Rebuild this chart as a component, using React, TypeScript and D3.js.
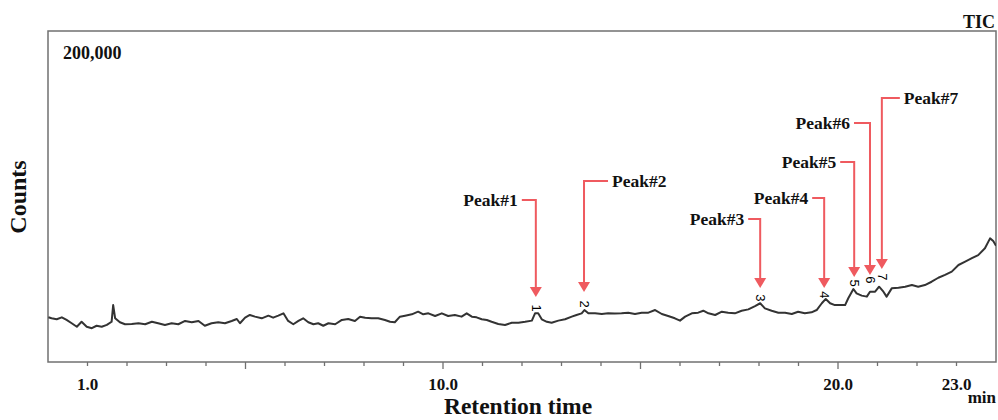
import React from "react";
import * as d3 from "d3";

// Retention time (min) and TIC counts (thousands)
const times = [
  0.01, 0.09, 0.22, 0.35, 0.47, 0.6, 0.73, 0.85, 0.98, 1.11, 1.23, 1.36, 1.49, 1.61, 1.65, 1.7, 1.82, 1.95, 2.12, 2.29,
  2.46, 2.63, 2.79, 2.96, 3.13, 3.3, 3.47, 3.64, 3.81, 3.97, 4.14, 4.31, 4.48, 4.65, 4.78, 4.86, 4.99, 5.11, 5.24, 5.41,
  5.58, 5.7, 5.83, 5.96, 6.08, 6.21, 6.34, 6.46, 6.59, 6.72, 6.84, 6.97, 7.1, 7.27, 7.44, 7.6, 7.77, 7.9, 8.03, 8.19,
  8.36, 8.53, 8.66, 8.78, 8.91, 9.04, 9.21, 9.37, 9.5, 9.63, 9.8, 9.97, 10.13, 10.3, 10.47, 10.6, 10.73, 10.85, 10.98, 11.11,
  11.23, 11.4, 11.57, 11.74, 11.91, 12.08, 12.25, 12.33, 12.41, 12.5, 12.63, 12.75, 12.92, 13.09, 13.26, 13.38, 13.51, 13.58, 13.68, 13.85,
  14.02, 14.18, 14.35, 14.52, 14.69, 14.86, 15.03, 15.2, 15.37, 15.54, 15.7, 15.87, 16.0, 16.13, 16.3, 16.46, 16.59, 16.72, 16.89, 17.06,
  17.22, 17.39, 17.56, 17.73, 17.9, 18.03, 18.15, 18.32, 18.49, 18.66, 18.83, 18.99, 19.16, 19.33, 19.46, 19.59, 19.69, 19.8, 19.92, 20.05,
  20.18, 20.26, 20.39, 20.47, 20.6, 20.73, 20.81, 20.94, 21.04, 21.15, 21.23, 21.36, 21.53, 21.7, 21.87, 22.03, 22.2, 22.37, 22.54, 22.71,
  22.88, 23.05, 23.22, 23.39, 23.55, 23.72, 23.85, 23.93, 24.0,
];
const countsK = [
  27.0, 26.4, 25.8, 27.0, 25.4, 23.4, 21.3, 24.3, 21.3, 20.4, 21.9, 21.3, 22.4, 24.3, 34.4, 26.4, 24.0, 22.8, 23.0, 23.4,
  22.8, 24.3, 23.4, 22.4, 23.4, 22.8, 24.8, 24.0, 24.8, 21.9, 23.4, 24.0, 23.4, 24.8, 26.0, 23.4, 26.8, 28.4, 27.4, 26.4,
  28.0, 26.8, 28.0, 29.4, 24.8, 22.8, 24.8, 26.4, 24.0, 22.8, 23.4, 21.9, 23.4, 22.8, 25.4, 26.0, 24.8, 27.4, 26.8, 26.4,
  26.4, 25.4, 24.3, 24.0, 27.4, 28.0, 28.8, 30.4, 28.8, 29.4, 27.8, 29.4, 27.8, 28.4, 27.4, 29.4, 27.4, 27.0, 25.8, 25.4,
  24.3, 23.0, 22.4, 23.7, 23.7, 24.3, 25.0, 29.4, 29.4, 25.8, 24.3, 23.7, 25.0, 25.8, 27.4, 28.4, 29.4, 31.4, 29.4, 29.4,
  29.0, 29.4, 29.3, 29.4, 29.8, 29.0, 29.8, 29.8, 31.4, 29.0, 27.8, 26.4, 25.0, 27.4, 29.4, 29.8, 31.0, 29.4, 28.4, 30.4,
  29.8, 29.4, 31.0, 31.8, 33.8, 35.5, 32.4, 31.0, 29.8, 29.8, 29.0, 30.4, 29.4, 30.0, 31.4, 35.5, 38.1, 35.5, 34.4, 34.4,
  34.4, 38.5, 44.1, 41.5, 40.1, 39.5, 42.5, 42.5, 45.5, 42.5, 39.5, 44.5, 44.9, 45.5, 46.5, 45.5, 46.5, 48.5, 50.9, 52.6,
  54.6, 58.6, 60.6, 62.7, 64.6, 68.7, 74.7, 73.1, 70.3,
];

// Peak annotations
const peakNames = ["Peak#1", "Peak#2", "Peak#3", "Peak#4", "Peak#5", "Peak#6", "Peak#7"];
const peakNumbers = ["1", "2", "3", "4", "5", "6", "7"];
const peakTimes = [12.35, 13.57, 18.03, 19.65, 20.41, 20.81, 21.11];
const peakLabelK = [97.9, 109.4, 86.4, 99.1, 120.8, 144.4, 159.5];
const peakTipK = [39.3, 42.3, 44.7, 44.7, 51.4, 52.6, 56.2];
const peakNumK = [32.6, 35.0, 38.7, 40.5, 47.7, 49.6, 51.4];
const peakSide = [-1, 1, -1, -1, -1, -1, 1];
const peakArm = [14, 24, 12, 12, 14, 16, 18];

const xTicks = d3.range(1, 24, 1);
const xMajor = [5, 10, 15, 20];
const xLabels = [1, 10, 20, 23];
const yTopLabel = "200,000";

const W = 998;
const H = 420;
const L = 48;
const R = 996;
const T = 31;
const B = 362;

export default function App() {
  const x = d3.scaleLinear().domain([0, 24]).range([L, R]);
  const y = d3.scaleLinear().domain([0, 200000]).range([B, T]);
  const line = d3
    .line<number>()
    .x((_, i) => x(times[i]))
    .y((v) => y(v * 1000));
  const red = "#ef5a5f";
  const serif = "'Liberation Serif', 'Times New Roman', serif";

  return (
    <svg
      width={W}
      height={H}
      style={{ position: "absolute", left: 0, top: 0, background: "#fff" }}
      fontFamily={serif}
    >
      <defs>
        <clipPath id="plot">
          <rect x={L} y={T} width={R - L} height={B - T} />
        </clipPath>
      </defs>
      <rect x={0} y={0} width={W} height={H} fill="#fff" />
      {/* frame */}
      <rect x={L} y={T} width={R - L} height={B - T} fill="none" stroke="#707070" strokeWidth={1.5} />
      {/* ticks */}
      {xTicks.map((t) => (
        <line
          key={t}
          x1={x(t)}
          x2={x(t)}
          y1={B}
          y2={B + (xMajor.includes(t) ? 7 : 4)}
          stroke="#707070"
          strokeWidth={1.3}
        />
      ))}
      {xLabels.map((t) => (
        <text key={t} x={x(t)} y={390} textAnchor="middle" fontSize={17} fontWeight="bold" fill="#111">
          {t.toFixed(1)}
        </text>
      ))}
      <text x={996} y={403} textAnchor="end" fontSize={17} fontWeight="bold" fill="#111">
        min
      </text>
      <text x={518} y={414} textAnchor="middle" fontSize={23.5} fontWeight="bold" fill="#111">
        Retention time
      </text>
      <text
        transform={`translate(26,197) rotate(-90)`}
        textAnchor="middle"
        fontSize={24}
        fontWeight="bold"
        fill="#111"
      >
        Counts
      </text>
      <text x={63} y={59} fontSize={18} fontWeight="bold" fill="#111">
        {yTopLabel}
      </text>
      <text x={995} y={28} textAnchor="end" fontSize={18} fontWeight="bold" fill="#111">
        TIC
      </text>
      {/* trace */}
      <path
        d={line(countsK) || ""}
        fill="none"
        stroke="#333"
        strokeWidth={2}
        strokeLinejoin="round"
        clipPath="url(#plot)"
      />
      {/* peak numbers */}
      {peakNumbers.map((n, i) => (
        <text
          key={n}
          transform={`translate(${x(peakTimes[i]) - 4},${y(peakNumK[i] * 1000)}) rotate(90)`}
          textAnchor="middle"
          fontSize={13}
          fontFamily="'Liberation Sans', Arial, sans-serif"
          fill="#000"
        >
          {n}
        </text>
      ))}
      {/* annotations */}
      {peakNames.map((name, i) => {
        const px = x(peakTimes[i]);
        const ly = y(peakLabelK[i] * 1000);
        const ty = y(peakTipK[i] * 1000);
        const ex = px + peakSide[i] * peakArm[i];
        const tx = ex + peakSide[i] * 4;
        return (
          <g key={name}>
            <polyline
              points={`${ex},${ly} ${px},${ly} ${px},${ty - 9}`}
              fill="none"
              stroke={red}
              strokeWidth={2}
            />
            <path d={`M${px - 6},${ty - 10} L${px + 6},${ty - 10} L${px},${ty} Z`} fill={red} />
            <text
              x={tx}
              y={ly + 6}
              textAnchor={peakSide[i] < 0 ? "end" : "start"}
              fontSize={17.5}
              fontWeight="bold"
              fill="#111"
            >
              {name}
            </text>
          </g>
        );
      })}
    </svg>
  );
}
